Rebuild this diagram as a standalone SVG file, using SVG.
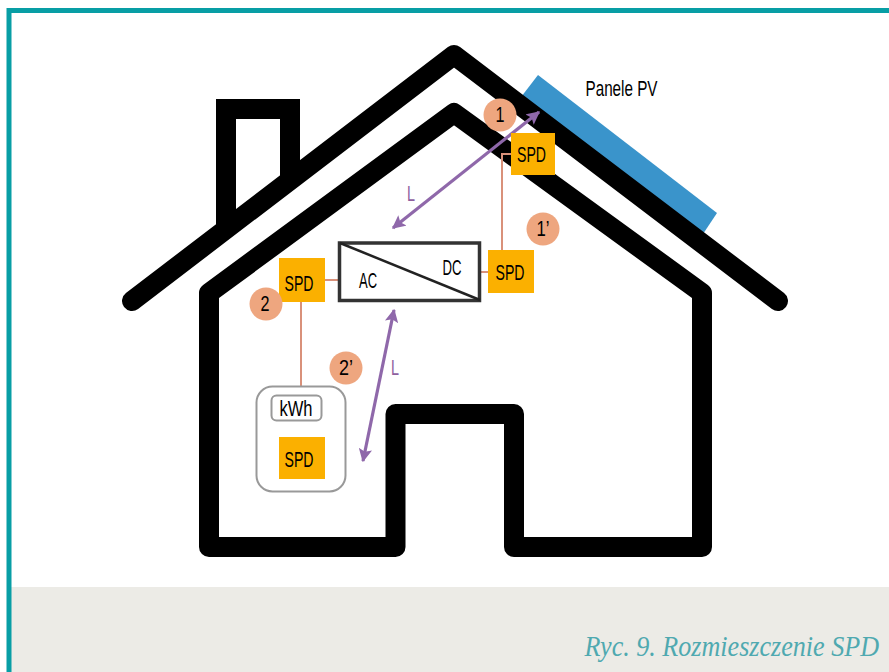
<svg xmlns="http://www.w3.org/2000/svg" width="889" height="672" viewBox="0 0 889 672">
<defs>
<marker id="ah" viewBox="0 0 10 10" refX="9" refY="5" markerWidth="4.200" markerHeight="4.200" orient="auto-start-reverse"><path d="M0 0L10 5L0 10L2 5Z" fill="#8f68aa"/></marker>
</defs>
<style>
text{font-family:"Liberation Sans",sans-serif;fill:#000;font-size:22.500px;text-anchor:middle}
.h{fill:none;stroke:#000;stroke-width:20;stroke-linejoin:round;stroke-linecap:round}
.s{fill:#fbb000}
.c{fill:#eea67f}
.w{fill:none;stroke:#d9917a;stroke-width:2}
.a{fill:none;stroke:#8f68aa;stroke-width:3.200;marker-start:url(#ah);marker-end:url(#ah)}
.l{fill:#8f5f9f}
</style>
<rect width="889" height="672" fill="#fff"/>
<rect x="11" y="587" width="878" height="85" fill="#ecebe6"/>
<path d="M889 10.500H9V672" fill="none" stroke="#089ea5" stroke-width="5"/>
<text transform="translate(879 656) scale(.9 1)" style="font-family:'Liberation Serif',serif;font-style:italic;font-size:29px;fill:#4fa9b0;text-anchor:end">Ryc. 9. Rozmieszczenie SPD</text>
<g id="panel"><path d="M538 75L717 213L699 240L518 101Z" fill="#3a94cb"/></g>
<g id="chimney"><path d="M226 228V109H290V185" fill="none" stroke="#000" stroke-width="20"/></g>
<g id="roof"><path class="h" d="M132 301L454 55L778 301"/></g>
<g id="house"><path class="h" d="M209 293L454 113L702 293V547H514V414H395.500V547H209Z"/></g>
<g id="connectors">
<path class="w" d="M511 154H502V250"/>
<path class="w" d="M481 272H488"/>
<path class="w" d="M325 280H338"/>
<path class="w" d="M301 302V386"/>
<path class="a" d="M393 228L539 112"/>
<path class="a" d="M394 310L363 461"/>
</g>
<g id="inverter"><rect x="339.500" y="243" width="140" height="57.500" fill="#fff" stroke="#333" stroke-width="3.500"/><path d="M340 243L480 300" stroke="#222" stroke-width="2.500"/><text x="368" y="288" textLength="18" lengthAdjust="spacingAndGlyphs">AC</text><text x="452" y="275" textLength="19" lengthAdjust="spacingAndGlyphs">DC</text></g>
<g id="spd-roof"><rect class="s" x="511" y="133" width="44" height="42"/><text x="531.500" y="162" textLength="29" lengthAdjust="spacingAndGlyphs">SPD</text></g>
<g id="spd-dc"><rect class="s" x="488" y="250" width="46" height="43"/><text x="510" y="280" textLength="29" lengthAdjust="spacingAndGlyphs">SPD</text></g>
<g id="spd-ac"><rect class="s" x="279" y="258" width="46" height="44"/><text x="299" y="291" textLength="29" lengthAdjust="spacingAndGlyphs">SPD</text></g>
<g id="meter"><rect x="256.500" y="386.500" width="89" height="105" rx="16" fill="#fff" stroke="#999" stroke-width="2"/><rect x="271.500" y="395.500" width="50" height="25" rx="5" fill="#fff" stroke="#999" stroke-width="2"/><text x="296" y="416" textLength="33" lengthAdjust="spacingAndGlyphs">kWh</text><rect class="s" x="279" y="437" width="46" height="42"/><text x="299" y="467" textLength="29" lengthAdjust="spacingAndGlyphs">SPD</text></g>
<g id="m1"><circle class="c" cx="500" cy="115" r="16.500"/><text x="500" y="122" textLength="9" lengthAdjust="spacingAndGlyphs">1</text></g>
<g id="m1p"><circle class="c" cx="543" cy="229" r="16.500"/><text x="543" y="236" textLength="13" lengthAdjust="spacingAndGlyphs">1’</text></g>
<g id="m2"><circle class="c" cx="266" cy="304" r="16.500"/><text x="265" y="311" textLength="9" lengthAdjust="spacingAndGlyphs">2</text></g>
<g id="m2p"><circle class="c" cx="346" cy="368" r="16.500"/><text x="346" y="375" textLength="14" lengthAdjust="spacingAndGlyphs">2’</text></g>
<text class="l" x="411" y="201" textLength="8" lengthAdjust="spacingAndGlyphs">L</text>
<text class="l" x="395" y="375" textLength="8" lengthAdjust="spacingAndGlyphs">L</text>
<text x="621.500" y="96" textLength="72" lengthAdjust="spacingAndGlyphs">Panele PV</text>
</svg>
